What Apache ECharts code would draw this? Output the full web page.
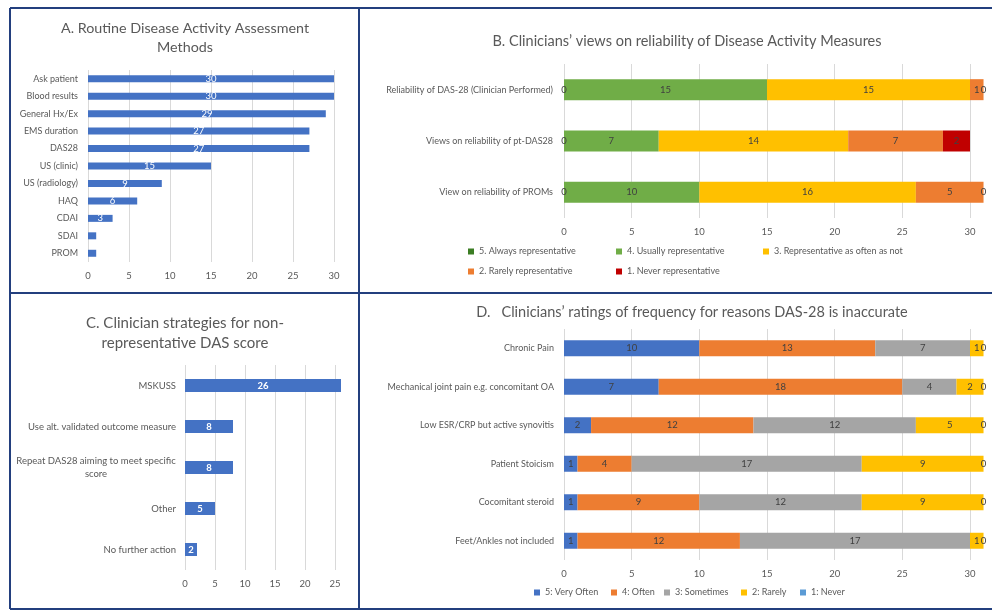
<!DOCTYPE html>
<html>
<head>
<meta charset="utf-8">
<script src="https://cdn.jsdelivr.net/npm/echarts@6/dist/echarts.min.js"></script>
<style>
  html, body { margin: 0; padding: 0; background: #ffffff; }
  #chart { width: 992px; height: 610px; }
</style>
</head>
<body>
<div id="chart"></div>
<script>
// A. Routine disease activity assessment methods
const methodNames = ['Ask patient', 'Blood results', 'General Hx/Ex', 'EMS duration', 'DAS28',
  'US (clinic)', 'US (radiology)', 'HAQ', 'CDAI', 'SDAI', 'PROM'];
const methodCounts = [30, 30, 29, 27, 27, 15, 9, 6, 3, 1, 1];

// B. Reliability of disease activity measures
const measureNames = ['Reliability of DAS-28 (Clinician Performed)', 'Views on reliability of pt-DAS28',
  'View on reliability of PROMs'];
const reliabilityLevels = ['5. Always representative', '4. Usually representative',
  '3. Representative as often as not', '2. Rarely representative', '1. Never representative'];
const alwaysRep = [0, 0, 0];
const usuallyRep = [15, 7, 10];
const asOftenAsNot = [15, 14, 16];
const rarelyRep = [1, 7, 5];
const neverRep = [0, 2, 0];

// C. Strategies for a non-representative DAS score
const strategyNames = ['MSKUSS', 'Use alt. validated outcome measure',
  'Repeat DAS28 aiming to meet specific\nscore', 'Other', 'No further action'];
const strategyCounts = [26, 8, 8, 5, 2];

// D. Reasons DAS-28 is inaccurate
const reasonNames = ['Chronic Pain', 'Mechanical joint pain e.g. concomitant OA',
  'Low ESR/CRP but active synovitis', 'Patient Stoicism', 'Cocomitant steroid', 'Feet/Ankles not included'];
const frequencyLevels = ['5: Very Often', '4: Often', '3: Sometimes', '2: Rarely', '1: Never'];
const veryOften = [10, 7, 2, 1, 1, 1];
const often = [13, 18, 12, 4, 9, 12];
const sometimes = [7, 4, 12, 17, 12, 17];
const rarely = [1, 2, 5, 9, 9, 1];
const never = [0, 0, 0, 0, 0, 0];

// Value-axis ticks
const tickStep = 5;
const axisMaxA = 30;
const axisMaxB = 30;
const axisMaxC = 25;
const axisMaxD = 30;

const FONT = 'Lato, "Open Sans", sans-serif';
const TEXT = '#595959';
const GRIDLINE = '#d9d9d9';
const BORDER = '#233f7e';

const reliabilityColors = ['#3b7d23', '#70ad47', '#ffc000', '#ed7d31', '#c00000'];
const frequencyColors = ['#4472c4', '#ed7d31', '#a5a5a5', '#ffc000', '#5b9bd5'];

function valueAxis(gridIndex, max) {
  return {
    type: 'value', gridIndex, min: 0, max, interval: tickStep,
    axisLine: { show: false }, axisTick: { show: false },
    splitLine: { show: true, lineStyle: { color: GRIDLINE, width: 1 } },
    axisLabel: { color: TEXT, fontSize: 9.5, fontFamily: FONT, margin: 9 }
  };
}
function categoryAxis(gridIndex, data, fontSize, margin, extra) {
  return Object.assign({
    type: 'category', gridIndex, data, inverse: true,
    axisLine: { show: false }, axisTick: { show: false }, splitLine: { show: false },
    axisLabel: { color: TEXT, fontSize, fontFamily: FONT, margin, interval: 0 }
  }, extra || {});
}

// Multi-line category labels are centred line by line
const measureCanvas = document.createElement('canvas').getContext('2d');
measureCanvas.font = '9.5px ' + FONT;
function wrappedLabel(value) {
  if (value.indexOf('\n') < 0) return value;
  const lines = value.split('\n');
  return lines.map(l => '{m|' + l + '}').join('\n');
}
const wrapWidth = Math.ceil(Math.max.apply(null,
  strategyNames.join('\n').split('\n').map(l => measureCanvas.measureText(l).width)));

function legendItem(name, x, y) {
  return {
    left: x - 2, top: y - 6, padding: 0, itemGap: 0, itemWidth: 6, itemHeight: 6,
    selectedMode: false,
    data: [{ name, icon: 'rect' }],
    textStyle: { color: TEXT, fontSize: 9, fontFamily: FONT }
  };
}

function stackSeries(names, colors, values, axisIndex, barWidth, stack) {
  return names.map((name, i) => ({
    name, type: 'bar', stack, xAxisIndex: axisIndex, yAxisIndex: axisIndex,
    data: values[i], barWidth, clip: false,
    itemStyle: { color: colors[i] },
    label: { show: true, position: 'inside', color: '#404040', fontSize: 9.5, fontFamily: FONT },
    emphasis: { disabled: true }
  }));
}

const borderLines = [
  [10, 8, 992, 8], [10, 609, 992, 609], [10, 8, 10, 609],
  [359, 8, 359, 609], [10, 293, 992, 293]
].map(p => ({
  type: 'line', shape: { x1: p[0], y1: p[1], x2: p[2], y2: p[3] },
  style: { stroke: BORDER, lineWidth: 2 }, silent: true, z: 10
}));

function titleText(text, x, y, size) {
  return {
    type: 'text', x, y, silent: true,
    style: { text, fill: TEXT, font: size + 'px ' + FONT, align: 'center', verticalAlign: 'middle',
      textAlign: 'center', textVerticalAlign: 'middle' }
  };
}

const option = {
  backgroundColor: '#ffffff',
  animation: false,
  textStyle: { fontFamily: FONT },
  grid: [
    { left: 88, top: 70, width: 246, height: 192 },
    { left: 564, top: 64, width: 406, height: 154 },
    { left: 185, top: 365, width: 150, height: 205 },
    { left: 564, top: 329, width: 406, height: 231 }
  ],
  xAxis: [
    valueAxis(0, axisMaxA), valueAxis(1, axisMaxB), valueAxis(2, axisMaxC), valueAxis(3, axisMaxD)
  ],
  yAxis: [
    categoryAxis(0, methodNames, 9, 10),
    categoryAxis(1, measureNames, 9, 11),
    categoryAxis(2, strategyNames, 9.5, 9, {
      axisLabel: {
        color: TEXT, fontSize: 9.5, fontFamily: FONT, margin: 9, interval: 0, lineHeight: 13,
        formatter: wrappedLabel,
        rich: { m: { width: wrapWidth, align: 'center', color: TEXT, fontSize: 9.5, fontFamily: FONT, lineHeight: 13 } }
      }
    }),
    categoryAxis(3, reasonNames, 9, 10)
  ],
  legend: [
    legendItem(reliabilityLevels[0], 470, 253),
    legendItem(reliabilityLevels[1], 618, 253),
    legendItem(reliabilityLevels[2], 765, 253),
    legendItem(reliabilityLevels[3], 470, 273),
    legendItem(reliabilityLevels[4], 618, 273),
    legendItem(frequencyLevels[0], 536, 594),
    legendItem(frequencyLevels[1], 613, 594),
    legendItem(frequencyLevels[2], 666, 594),
    legendItem(frequencyLevels[3], 743, 594),
    legendItem(frequencyLevels[4], 802, 594)
  ],
  series: [
    {
      type: 'bar', xAxisIndex: 0, yAxisIndex: 0, data: methodCounts, barWidth: 7,
      itemStyle: { color: '#4472c4' },
      label: { show: true, position: 'inside', color: '#ffffff', fontSize: 9.5, fontFamily: FONT,
        formatter: p => (p.value > 1 ? String(p.value) : '') },
      emphasis: { disabled: true }
    },
    ...stackSeries(reliabilityLevels, reliabilityColors,
      [alwaysRep, usuallyRep, asOftenAsNot, rarelyRep, neverRep], 1, 21, 'reliability'),
    {
      type: 'bar', xAxisIndex: 2, yAxisIndex: 2, data: strategyCounts, barWidth: 13, clip: false,
      itemStyle: { color: '#4472c4' },
      label: { show: true, position: 'inside', color: '#ffffff', fontSize: 9.5, fontWeight: 'bold', fontFamily: FONT },
      emphasis: { disabled: true }
    },
    ...stackSeries(frequencyLevels, frequencyColors,
      [veryOften, often, sometimes, rarely, never], 3, 16, 'frequency')
  ],
  graphic: [
    titleText('A. Routine Disease Activity Assessment', 185, 28, 14.3),
    titleText('Methods', 185, 47, 14.3),
    titleText('B. Clinicians\u2019 views on reliability of Disease Activity Measures', 687, 41, 14.5),
    titleText('C. Clinician strategies for non-', 185, 323, 15),
    titleText('representative DAS score', 185, 343, 15),
    titleText('D.   Clinicians\u2019 ratings of frequency for reasons DAS-28 is inaccurate', 692, 312, 14.5),
    ...borderLines
  ]
};

const chart = echarts.init(document.getElementById('chart'), null, { renderer: 'canvas', width: 992, height: 610 });
chart.setOption(option);
</script>
</body>
</html>
